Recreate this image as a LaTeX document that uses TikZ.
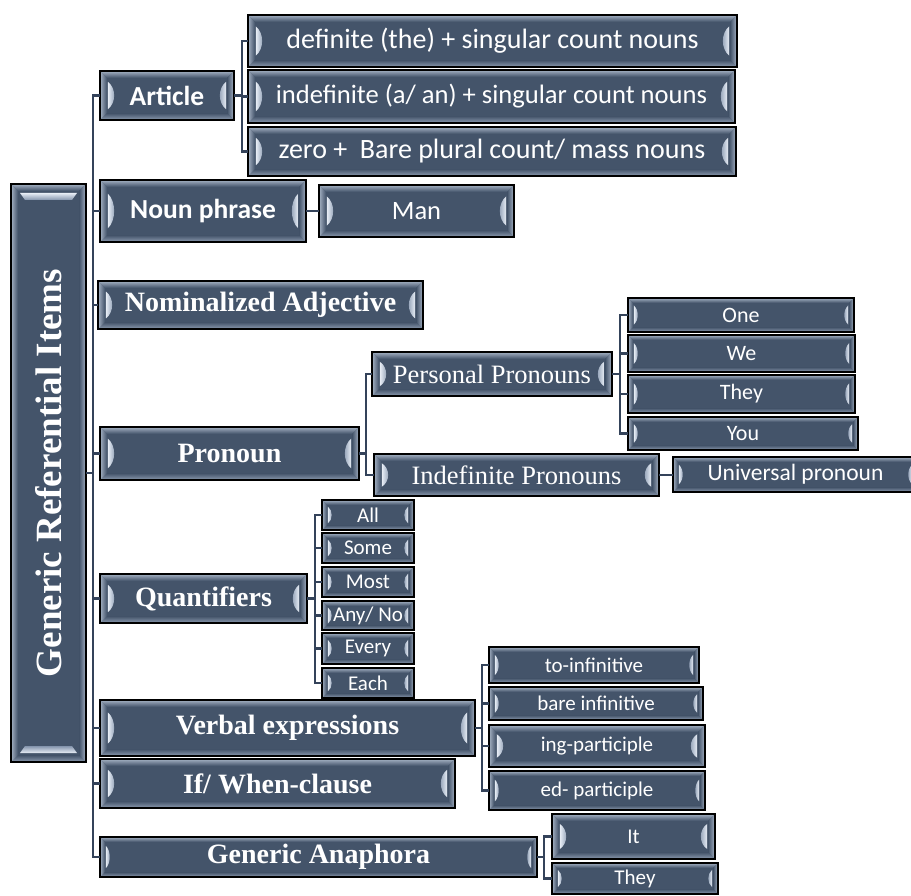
\documentclass[tikz,border=0pt]{standalone}
\usepackage{fontspec}
\usepackage{graphicx}
\newfontfamily\calfont{Carlito}
\newfontfamily\timesfont{Liberation Serif}
\usetikzlibrary{calc}
\definecolor{boxfill}{HTML}{44546A}
\definecolor{bevlight}{HTML}{A7B4C6}
\definecolor{bevlow}{HTML}{8F9DB2}
\definecolor{lenslight}{HTML}{E8EEF6}
\definecolor{lensdark}{HTML}{8494AC}
\definecolor{linecol}{HTML}{34435A}
\pgfdeclarelayer{paper}
\pgfdeclarelayer{background}
\pgfsetlayers{paper,background,main}
\newcommand{\fsz}[1]{\fontsize{#1}{#1}\selectfont}
\tikzset{
  boxnode/.style={inner sep=0pt, text=white, align=center},
  conn/.style={draw=linecol, line width=2.4pt},
}
\newcommand{\bxbase}[7]{%
 \pgfmathsetmacro{\bw}{#4-#2}%
 \pgfmathsetmacro{\bh}{#5-#3}%
 \pgfmathsetmacro{\cx}{(#2+#4)/2}%
 \pgfmathsetmacro{\cy}{(#3+#5)/2}%
 \pgfmathsetmacro{\bv}{\bh>40?7:5}%
 \node[boxnode, minimum width=\bw pt, minimum height=\bh pt, font=#6] (#1) at (\cx,\cy) {#7};
 \begin{pgfonlayer}{background}
  \fill[boxfill] (#1.north west) rectangle (#1.south east);
  \shade[top color=bevlight, bottom color=boxfill] (#1.north west) -- (#1.north east) -- ([shift={(-\bv pt,-\bv pt)}]#1.north east) -- ([shift={(\bv pt,-\bv pt)}]#1.north west) -- cycle;
  \shade[bottom color=bevlow, top color=boxfill] (#1.south west) -- (#1.south east) -- ([shift={(-\bv pt,\bv pt)}]#1.south east) -- ([shift={(\bv pt,\bv pt)}]#1.south west) -- cycle;
  \shade[left color=bevlight, right color=boxfill] (#1.north west) -- ([shift={(\bv pt,-\bv pt)}]#1.north west) -- ([shift={(\bv pt,\bv pt)}]#1.south west) -- (#1.south west) -- cycle;
  \shade[right color=bevlight, left color=boxfill] (#1.north east) -- ([shift={(-\bv pt,-\bv pt)}]#1.north east) -- ([shift={(-\bv pt,\bv pt)}]#1.south east) -- (#1.south east) -- cycle;
 \end{pgfonlayer}
 \draw[line width=1.8pt] (#1.north west) rectangle (#1.south east);
}
\newcommand{\bx}[7]{%
 \bxbase{#1}{#2}{#3}{#4}{#5}{#6}{#7}%
 \pgfmathsetmacro{\bl}{0.28*\bh}%
 \pgfmathsetmacro{\bg}{\bh>40?6.5:4}%
 \pgfmathsetmacro{\la}{\bv+1}%
 \pgfmathsetmacro{\lb}{\bv+1+1.3*\bg}%
 \pgfmathsetmacro{\lc}{0.55*\bl}%
 \begin{pgfonlayer}{background}
  \shade[left color=lenslight, right color=lensdark] ([shift={(\la pt,\bl pt)}]#1.west) .. controls ([shift={(\lb pt,\lc pt)}]#1.west) and ([shift={(\lb pt,-\lc pt)}]#1.west) .. ([shift={(\la pt,-\bl pt)}]#1.west) -- cycle;
  \shade[right color=lenslight, left color=lensdark] ([shift={(-\la pt,\bl pt)}]#1.east) .. controls ([shift={(-\lb pt,\lc pt)}]#1.east) and ([shift={(-\lb pt,-\lc pt)}]#1.east) .. ([shift={(-\la pt,-\bl pt)}]#1.east) -- cycle;
 \end{pgfonlayer}
}
\begin{document}
\begin{tikzpicture}[x=1pt,y=-1pt]
\clip (0,0) rectangle (911,896);
\begin{pgfonlayer}{paper}
\fill[white] (0,0) rectangle (911,896);
\end{pgfonlayer}
% root
\bxbase{root}{11}{184}{86}{762}{\timesfont\bfseries\fsz{37}}{\rotatebox{90}{Generic Referential Items}}
\begin{pgfonlayer}{background}
 \shade[top color=lenslight, bottom color=lensdark] (20,193) -- (77,193) -- (72,200) -- (25,200) -- cycle;
 \shade[bottom color=lenslight, top color=lensdark] (20,753) -- (77,753) -- (72,746) -- (25,746) -- cycle;
\end{pgfonlayer}
% level 1
\bx{art}{100}{71}{234}{120}{\calfont\bfseries\fsz{27.5}}{Article}
\bx{np}{100}{180}{306}{242}{\calfont\bfseries\fsz{27.5}}{Noun phrase}
\bx{nom}{98}{281}{423}{329}{\timesfont\bfseries\fsz{28}}{Nominalized Adjective}
\bx{pro}{100}{427}{359}{480}{\timesfont\bfseries\fsz{28}}{Pronoun}
\bx{q}{100}{574}{307}{623}{\timesfont\bfseries\fsz{28}}{Quantifiers}
\bx{ve}{100}{700}{475}{756}{\timesfont\bfseries\fsz{28}}{Verbal expressions}
\bx{ifw}{100}{759}{455}{808}{\timesfont\bfseries\fsz{28}}{If/ When-clause}
\bx{ga}{100}{837}{537}{877}{\timesfont\bfseries\fsz{28}}{Generic Anaphora}
% article children
\bx{d1}{248}{15}{737}{67}{\calfont\fsz{28}}{definite (the) + singular count nouns}
\bx{d2}{248}{70}{735}{123}{\calfont\fsz{26.6}}{indefinite (a/ an) + singular count nouns}
\bx{d3}{248}{127}{736}{176}{\calfont\fsz{28}}{zero +\ \ Bare plural count/ mass nouns}
\bx{man}{319}{185}{514}{237}{\calfont\fsz{26.5}}{Man}
% pronoun children
\bx{pp}{372}{352}{612}{396}{\timesfont\fsz{26.5}}{Personal Pronouns}
\bx{ip}{374}{454}{659}{496}{\timesfont\fsz{26.5}}{Indefinite Pronouns}
\bx{one}{628}{298}{854}{332}{\calfont\fsz{22}}{One}
\bx{we}{628}{335}{855}{372}{\calfont\fsz{22}}{We}
\bx{they1}{628}{375}{855}{413}{\calfont\fsz{22}}{They}
\bx{you}{628}{417}{858}{450}{\calfont\fsz{22}}{You}
\bx{uni}{673}{457}{918}{492}{\calfont\fsz{23.5}}{Universal pronoun}
% quantifier children
\bx{all}{322}{500}{414}{530}{\calfont\fsz{21}}{All}
\bx{some}{322}{533}{414}{563}{\calfont\fsz{21}}{Some}
\bx{most}{322}{567}{414}{597}{\calfont\fsz{21}}{Most}
\bx{any}{322}{601}{414}{630}{\calfont\fsz{21}}{Any/ No}
\bx{every}{322}{633}{414}{664}{\calfont\fsz{21}}{Every}
\bx{each}{322}{668}{414}{698}{\calfont\fsz{21}}{Each}
% verbal children
\bx{toi}{489}{647}{699}{683}{\calfont\fsz{21}}{to-infinitive}
\bx{bare}{489}{687}{703}{720}{\calfont\fsz{21}}{bare infinitive}
\bx{ing}{489}{725}{705}{767}{\calfont\fsz{21}}{ing-participle}
\bx{ed}{489}{771}{705}{810}{\calfont\fsz{21}}{ed- participle}
% anaphora children
\bx{it}{552}{814}{715}{859}{\calfont\fsz{21}}{It}
\bx{they2}{552}{863}{718}{894}{\calfont\fsz{21}}{They}
% connectors
\coordinate (t0) at (93,0);
\coordinate (t1) at (242,0);
\coordinate (t2) at (366,0);
\coordinate (t3) at (620,0);
\coordinate (t4) at (315,0);
\coordinate (t5) at (482,0);
\coordinate (t6) at (544,0);
\foreach \c in {art,np,nom,pro,q,ve,ifw,ga}
  \draw[conn] (root.east) -- (root.east -| t0) |- (\c.west);
\foreach \c in {d1,d2,d3}
  \draw[conn] (art.east) -- (art.east -| t1) |- (\c.west);
\draw[conn] (np.east) -- (man.west);
\foreach \c in {pp,ip}
  \draw[conn] (pro.east) -- (pro.east -| t2) |- (\c.west);
\foreach \c in {one,we,they1,you}
  \draw[conn] (pp.east) -- (pp.east -| t3) |- (\c.west);
\draw[conn] (ip.east) -- (ip.east -| uni.west);
\foreach \c in {all,some,most,any,every,each}
  \draw[conn] (q.east) -- (q.east -| t4) |- (\c.west);
\foreach \c in {toi,bare,ing,ed}
  \draw[conn] (ve.east) -- (ve.east -| t5) |- (\c.west);
\foreach \c in {it,they2}
  \draw[conn] (ga.east) -- (ga.east -| t6) |- (\c.west);
\end{tikzpicture}
\end{document}
